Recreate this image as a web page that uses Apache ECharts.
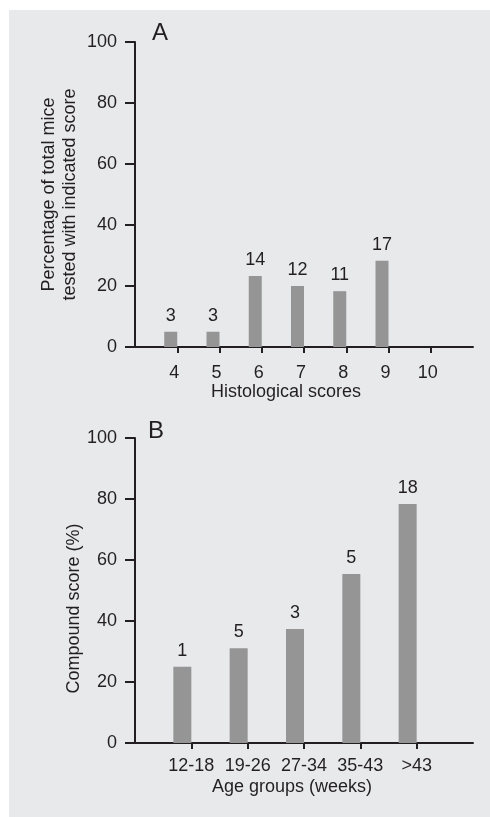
<!DOCTYPE html>
<html>
<head>
<meta charset="utf-8">
<script src="https://cdn.jsdelivr.net/npm/echarts@6/dist/echarts.min.js"></script>
<style>
html,body{margin:0;padding:0;background:#fff;}
#c{width:490px;height:817px;}
</style>
</head>
<body>
<div id="c"></div>
<script>
// Panel A
var catsA = ['4','5','6','7','8','9','10'];
var valuesA = [5, 5, 23.3, 20, 18.3, 28.3, null];
var countsA = [3, 3, 14, 12, 11, 17, null];
// Panel B
var catsB = ['12-18','19-26','27-34','35-43','>43'];
var valuesB = [25, 31.1, 37.4, 55.4, 78.4];
var countsB = [1, 5, 3, 5, 18];
var yTicks = [0, 20, 40, 60, 80, 100];

var FONT = '"Liberation Sans", Arial, Helvetica, sans-serif';
var TXT = '#231f20';
var BAR = '#959595';
var FS = 18;

function padCats(c){ return ['__s'].concat(c).concat(['__e']); }
function padVals(v){ return [null].concat(v).concat([null]); }
function inner(n){ return function(i){ return i >= 1 && i <= n; }; }

var axA = padCats(catsA), axB = padCats(catsB);

function xAxisCfg(gi, data, n, name, margin, lblPad, nameGap, namePad){
  return {
    type: 'category', gridIndex: gi, data: data, boundaryGap: false,
    axisLine: {lineStyle: {color: TXT, width: 2}},
    axisTick: {show: true, length: 6, interval: inner(n), lineStyle: {color: TXT, width: 2}},
    axisLabel: {interval: inner(n), margin: margin, color: TXT, fontSize: FS, fontFamily: FONT,
      padding: lblPad,
      formatter: function(v){ return (v === '__s' || v === '__e') ? '' : v; }},
    name: name, nameLocation: 'middle', nameGap: nameGap, nameMoveOverlap: false,
    nameTextStyle: {color: TXT, fontSize: FS, fontFamily: FONT, padding: namePad},
    splitLine: {show: false}
  };
}
function yAxisCfg(gi, name, nameGap, namePad, lh){
  return {
    type: 'value', gridIndex: gi, min: yTicks[0], max: yTicks[yTicks.length-1], interval: 20,
    axisLine: {show: true, lineStyle: {color: TXT, width: 2}},
    axisTick: {show: true, length: 10, lineStyle: {color: TXT, width: 2}},
    axisLabel: {margin: 18, color: TXT, fontSize: FS, fontFamily: FONT},
    splitLine: {show: false},
    name: name, nameLocation: 'middle', nameGap: nameGap, nameRotate: 90, nameMoveOverlap: false,
    nameTextStyle: {color: TXT, fontSize: FS, fontFamily: FONT, lineHeight: lh, padding: namePad}
  };
}

var chart = echarts.init(document.getElementById('c'), null, {renderer: 'canvas'});
chart.setOption({
  animation: false,
  backgroundColor: '#ffffff',
  graphic: [
    {type: 'rect', z: -10, shape: {x: 9, y: 10, width: 481, height: 807}, style: {fill: '#e8e9eb'}},
    {type: 'text', left: 152, top: 21, style: {text: 'A', fontSize: 24, fontFamily: FONT, fill: TXT}},
    {type: 'text', left: 148, top: 419, style: {text: 'B', fontSize: 24, fontFamily: FONT, fill: TXT}}
  ],
  grid: [
    {left: 135, top: 42, width: 338, height: 305},
    {left: 135, top: 438, width: 338, height: 305}
  ],
  xAxis: [
    xAxisCfg(0, axA, catsA.length, 'Histological scores', 17, [0, 6, 0, 0], 36, [0, 36, 0, 0]),
    xAxisCfg(1, axB, catsB.length, 'Age groups (weeks)', 14, 0, 35, [0, 24, 0, 0])
  ],
  yAxis: [
    yAxisCfg(0, 'Percentage of total mice\ntested with indicated score', 54, 0, 21),
    yAxisCfg(1, 'Compound score (%)', 51, [0, 36, 0, 0], 20)
  ],
  series: [
    {type: 'bar', xAxisIndex: 0, yAxisIndex: 0, data: padVals(valuesA), barWidth: 13, barGap: '0%',
      itemStyle: {color: BAR},
      label: {show: true, position: 'top', distance: 7, color: TXT, fontSize: FS, fontFamily: FONT,
        formatter: function(p){ var c = countsA[p.dataIndex-1]; return c == null ? '' : String(c); }}},
    {type: 'bar', xAxisIndex: 0, yAxisIndex: 0, data: padVals(catsA.map(function(){return null;})), barWidth: 13, barGap: '0%', silent: true},
    {type: 'bar', xAxisIndex: 1, yAxisIndex: 1, data: padVals(valuesB), barWidth: 18, barGap: '0%',
      itemStyle: {color: BAR},
      label: {show: true, position: 'top', distance: 7, color: TXT, fontSize: FS, fontFamily: FONT,
        formatter: function(p){ var c = countsB[p.dataIndex-1]; return c == null ? '' : String(c); }}},
    {type: 'bar', xAxisIndex: 1, yAxisIndex: 1, data: padVals(catsB.map(function(){return null;})), barWidth: 18, barGap: '0%', silent: true}
  ]
});
</script>
</body>
</html>
